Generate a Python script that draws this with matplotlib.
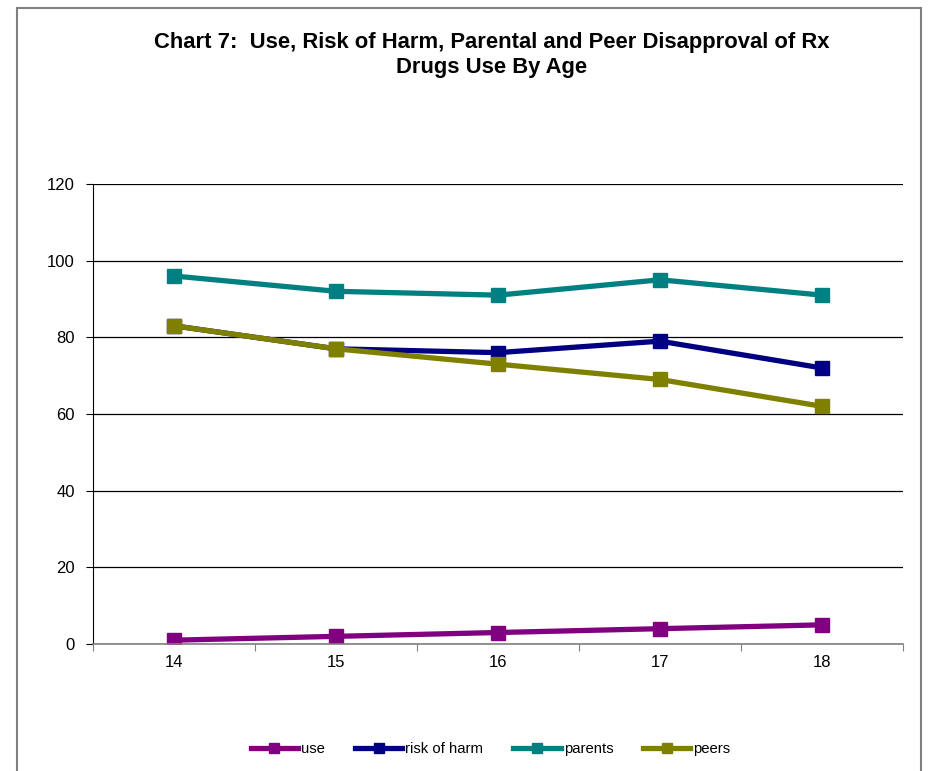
import matplotlib
matplotlib.use("Agg")
import matplotlib.pyplot as plt
from matplotlib.patches import Rectangle
import numpy as np

# data
ages = [14, 15, 16, 17, 18]
use = [1, 2, 3, 4, 5]
risk_of_harm = [83, 77, 76, 79, 72]
parents = [96, 92, 91, 95, 91]
peers = [83, 77, 73, 69, 62]

series = [
    ("use", use, "#800080"),
    ("risk of harm", risk_of_harm, "#000080"),
    ("parents", parents, "#008080"),
    ("peers", peers, "#808000"),
]

plt.rcParams["font.family"] = ["Liberation Sans", "DejaVu Sans"]

fig = plt.figure(figsize=(9.31, 7.71), dpi=100)
ax = fig.add_axes([0.0999, 0.1647, 0.8700, 0.5967])

# outer chart frame (open at the bottom, like the cropped original)
fig.patches.append(Rectangle((17 / 931, -0.01), (921 - 17) / 931, 1 - 8 / 771 + 0.01,
                             transform=fig.transFigure, fill=False,
                             edgecolor="#808080", linewidth=1.5))

x = np.arange(len(ages))
for name, vals, col in series:
    ax.plot(x, vals, color=col, linewidth=3.8, marker="s", markersize=10,
            label=name, solid_joinstyle="round")

ax.set_xlim(-0.5, len(ages) - 0.5)
ax.set_ylim(0, 120)
ax.set_yticks(range(0, 121, 20))
ax.yaxis.grid(True, color="black", linewidth=0.9)
ax.set_axisbelow(True)

# category labels centred, tick marks between categories
ax.set_xticks(np.arange(-0.5, len(ages), 1.0))
ax.set_xticklabels([])
ax.set_xticks(x, minor=True)
ax.set_xticklabels([str(a) for a in ages], minor=True, fontsize=12)
ax.tick_params(axis="x", which="minor", length=0, pad=8)
ax.tick_params(axis="x", which="major", length=5, direction="out", color="#808080")
ax.tick_params(axis="y", length=5, direction="out", labelsize=12, pad=8)

for s in ["top", "right"]:
    ax.spines[s].set_visible(False)
ax.spines["bottom"].set_color("#808080")
ax.spines["bottom"].set_linewidth(1.2)
ax.spines["left"].set_color("black")

fig.text(0.528, 0.929, "Chart 7:  Use, Risk of Harm, Parental and Peer Disapproval of Rx\nDrugs Use By Age",
         ha="center", va="center", fontsize=15.8, fontweight="bold", linespacing=1.22)

fig.legend(loc="center", bbox_to_anchor=(0.527, 0.028), ncol=4, frameon=False,
           fontsize=10.7, handlelength=3.2, handletextpad=0.2, columnspacing=2.0,
           markerscale=0.75)

fig.savefig("out.png", dpi=100)
